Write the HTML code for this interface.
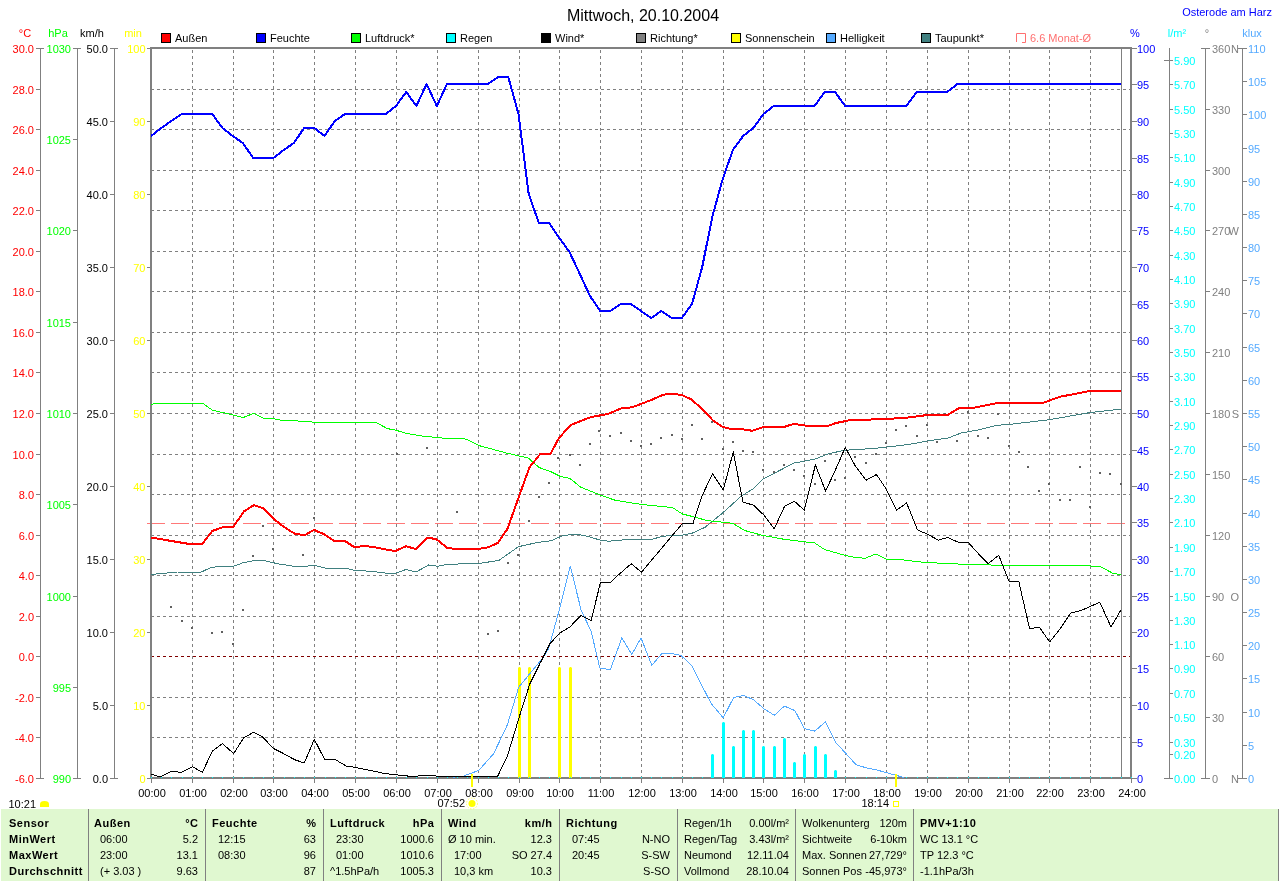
<!DOCTYPE html>
<html><head><meta charset="utf-8"><style>
html,body{margin:0;padding:0;background:#fff;width:1280px;height:881px;overflow:hidden}
svg{display:block;will-change:transform}
text{font-family:"Liberation Sans", sans-serif} text[font-weight=bold]{letter-spacing:0.5px}
</style></head><body>
<svg width="1280" height="881" viewBox="0 0 1280 881">
<text x="643" y="21" fill="#000" font-size="16" text-anchor="middle" font-weight="normal" >Mittwoch, 20.10.2004</text>
<text x="1272" y="16" fill="#0000FF" font-size="11" text-anchor="end" font-weight="normal" >Osterode am Harz</text>
<rect x="161.5" y="33.5" width="9" height="9" fill="#FF0000" stroke="#000" stroke-width="1"/>
<text x="175" y="42" fill="#000" font-size="11" text-anchor="start" font-weight="normal" >Außen</text>
<rect x="256.5" y="33.5" width="9" height="9" fill="#0000FF" stroke="#000" stroke-width="1"/>
<text x="270" y="42" fill="#000" font-size="11" text-anchor="start" font-weight="normal" >Feuchte</text>
<rect x="351.5" y="33.5" width="9" height="9" fill="#00FF00" stroke="#000" stroke-width="1"/>
<text x="365" y="42" fill="#000" font-size="11" text-anchor="start" font-weight="normal" >Luftdruck*</text>
<rect x="446.5" y="33.5" width="9" height="9" fill="#00FFFF" stroke="#000" stroke-width="1"/>
<text x="460" y="42" fill="#000" font-size="11" text-anchor="start" font-weight="normal" >Regen</text>
<rect x="541.5" y="33.5" width="9" height="9" fill="#000000" stroke="#000" stroke-width="1"/>
<text x="555" y="42" fill="#000" font-size="11" text-anchor="start" font-weight="normal" >Wind*</text>
<rect x="636.5" y="33.5" width="9" height="9" fill="#808080" stroke="#000" stroke-width="1"/>
<text x="650" y="42" fill="#000" font-size="11" text-anchor="start" font-weight="normal" >Richtung*</text>
<rect x="731.5" y="33.5" width="9" height="9" fill="#FFFF00" stroke="#000" stroke-width="1"/>
<text x="745" y="42" fill="#000" font-size="11" text-anchor="start" font-weight="normal" >Sonnenschein</text>
<rect x="826.5" y="33.5" width="9" height="9" fill="#55AAFF" stroke="#000" stroke-width="1"/>
<text x="840" y="42" fill="#000" font-size="11" text-anchor="start" font-weight="normal" >Helligkeit</text>
<rect x="921.5" y="33.5" width="9" height="9" fill="#408080" stroke="#000" stroke-width="1"/>
<text x="935" y="42" fill="#000" font-size="11" text-anchor="start" font-weight="normal" >Taupunkt*</text>
<path d="M1016.5,42 V33.5 H1025.5 V42.5 H1022" fill="none" stroke="#FF7070" stroke-width="1"/>
<text x="1030" y="42" fill="#FF7070" font-size="11" text-anchor="start" font-weight="normal" >6.6 Monat-Ø</text>
<text x="25" y="37" fill="#FF0000" font-size="11" text-anchor="middle" font-weight="normal" >°C</text>
<text x="58" y="37" fill="#00FF00" font-size="11" text-anchor="middle" font-weight="normal" >hPa</text>
<text x="92" y="37" fill="#000" font-size="11" text-anchor="middle" font-weight="normal" >km/h</text>
<text x="133" y="37" fill="#FFFF00" font-size="11" text-anchor="middle" font-weight="normal" >min</text>
<text x="1135" y="37" fill="#0000FF" font-size="11" text-anchor="middle" font-weight="normal" >%</text>
<text x="1177" y="37" fill="#00FFFF" font-size="11" text-anchor="middle" font-weight="normal" >l/m²</text>
<text x="1207" y="37" fill="#808080" font-size="11" text-anchor="middle" font-weight="normal" >°</text>
<text x="1252" y="37" fill="#55AAFF" font-size="11" text-anchor="middle" font-weight="normal" >klux</text>
<line x1="40.5" y1="48" x2="40.5" y2="779" stroke="#808080" stroke-width="1"/>
<line x1="36" y1="48.5" x2="44" y2="48.5" stroke="#808080" stroke-width="1"/>
<text x="34" y="53" fill="#FF0000" font-size="11" text-anchor="end" font-weight="normal" >30.0</text>
<line x1="36" y1="89.5" x2="40" y2="89.5" stroke="#808080" stroke-width="1"/>
<text x="34" y="94" fill="#FF0000" font-size="11" text-anchor="end" font-weight="normal" >28.0</text>
<line x1="36" y1="129.5" x2="40" y2="129.5" stroke="#808080" stroke-width="1"/>
<text x="34" y="134" fill="#FF0000" font-size="11" text-anchor="end" font-weight="normal" >26.0</text>
<line x1="36" y1="170.5" x2="40" y2="170.5" stroke="#808080" stroke-width="1"/>
<text x="34" y="175" fill="#FF0000" font-size="11" text-anchor="end" font-weight="normal" >24.0</text>
<line x1="36" y1="210.5" x2="40" y2="210.5" stroke="#808080" stroke-width="1"/>
<text x="34" y="215" fill="#FF0000" font-size="11" text-anchor="end" font-weight="normal" >22.0</text>
<line x1="36" y1="251.5" x2="40" y2="251.5" stroke="#808080" stroke-width="1"/>
<text x="34" y="256" fill="#FF0000" font-size="11" text-anchor="end" font-weight="normal" >20.0</text>
<line x1="36" y1="291.5" x2="40" y2="291.5" stroke="#808080" stroke-width="1"/>
<text x="34" y="296" fill="#FF0000" font-size="11" text-anchor="end" font-weight="normal" >18.0</text>
<line x1="36" y1="332.5" x2="40" y2="332.5" stroke="#808080" stroke-width="1"/>
<text x="34" y="337" fill="#FF0000" font-size="11" text-anchor="end" font-weight="normal" >16.0</text>
<line x1="36" y1="372.5" x2="40" y2="372.5" stroke="#808080" stroke-width="1"/>
<text x="34" y="377" fill="#FF0000" font-size="11" text-anchor="end" font-weight="normal" >14.0</text>
<line x1="36" y1="413.5" x2="40" y2="413.5" stroke="#808080" stroke-width="1"/>
<text x="34" y="418" fill="#FF0000" font-size="11" text-anchor="end" font-weight="normal" >12.0</text>
<line x1="36" y1="454.5" x2="40" y2="454.5" stroke="#808080" stroke-width="1"/>
<text x="34" y="459" fill="#FF0000" font-size="11" text-anchor="end" font-weight="normal" >10.0</text>
<line x1="36" y1="494.5" x2="40" y2="494.5" stroke="#808080" stroke-width="1"/>
<text x="34" y="499" fill="#FF0000" font-size="11" text-anchor="end" font-weight="normal" >8.0</text>
<line x1="36" y1="535.5" x2="40" y2="535.5" stroke="#808080" stroke-width="1"/>
<text x="34" y="540" fill="#FF0000" font-size="11" text-anchor="end" font-weight="normal" >6.0</text>
<line x1="36" y1="575.5" x2="40" y2="575.5" stroke="#808080" stroke-width="1"/>
<text x="34" y="580" fill="#FF0000" font-size="11" text-anchor="end" font-weight="normal" >4.0</text>
<line x1="36" y1="616.5" x2="40" y2="616.5" stroke="#808080" stroke-width="1"/>
<text x="34" y="621" fill="#FF0000" font-size="11" text-anchor="end" font-weight="normal" >2.0</text>
<line x1="36" y1="656.5" x2="40" y2="656.5" stroke="#808080" stroke-width="1"/>
<text x="34" y="661" fill="#FF0000" font-size="11" text-anchor="end" font-weight="normal" >0.0</text>
<line x1="36" y1="697.5" x2="40" y2="697.5" stroke="#808080" stroke-width="1"/>
<text x="34" y="702" fill="#FF0000" font-size="11" text-anchor="end" font-weight="normal" >-2.0</text>
<line x1="36" y1="737.5" x2="40" y2="737.5" stroke="#808080" stroke-width="1"/>
<text x="34" y="742" fill="#FF0000" font-size="11" text-anchor="end" font-weight="normal" >-4.0</text>
<line x1="36" y1="778.5" x2="44" y2="778.5" stroke="#808080" stroke-width="1"/>
<text x="34" y="783" fill="#FF0000" font-size="11" text-anchor="end" font-weight="normal" >-6.0</text>
<line x1="77.5" y1="48" x2="77.5" y2="779" stroke="#808080" stroke-width="1"/>
<line x1="73" y1="48.5" x2="81" y2="48.5" stroke="#808080" stroke-width="1"/>
<text x="71" y="53" fill="#00FF00" font-size="11" text-anchor="end" font-weight="normal" >1030</text>
<line x1="73" y1="139.5" x2="77" y2="139.5" stroke="#808080" stroke-width="1"/>
<text x="71" y="144" fill="#00FF00" font-size="11" text-anchor="end" font-weight="normal" >1025</text>
<line x1="73" y1="230.5" x2="77" y2="230.5" stroke="#808080" stroke-width="1"/>
<text x="71" y="235" fill="#00FF00" font-size="11" text-anchor="end" font-weight="normal" >1020</text>
<line x1="73" y1="322.5" x2="77" y2="322.5" stroke="#808080" stroke-width="1"/>
<text x="71" y="327" fill="#00FF00" font-size="11" text-anchor="end" font-weight="normal" >1015</text>
<line x1="73" y1="413.5" x2="77" y2="413.5" stroke="#808080" stroke-width="1"/>
<text x="71" y="418" fill="#00FF00" font-size="11" text-anchor="end" font-weight="normal" >1010</text>
<line x1="73" y1="504.5" x2="77" y2="504.5" stroke="#808080" stroke-width="1"/>
<text x="71" y="509" fill="#00FF00" font-size="11" text-anchor="end" font-weight="normal" >1005</text>
<line x1="73" y1="596.5" x2="77" y2="596.5" stroke="#808080" stroke-width="1"/>
<text x="71" y="601" fill="#00FF00" font-size="11" text-anchor="end" font-weight="normal" >1000</text>
<line x1="73" y1="687.5" x2="77" y2="687.5" stroke="#808080" stroke-width="1"/>
<text x="71" y="692" fill="#00FF00" font-size="11" text-anchor="end" font-weight="normal" >995</text>
<line x1="73" y1="778.5" x2="81" y2="778.5" stroke="#808080" stroke-width="1"/>
<text x="71" y="783" fill="#00FF00" font-size="11" text-anchor="end" font-weight="normal" >990</text>
<line x1="114.5" y1="48" x2="114.5" y2="779" stroke="#808080" stroke-width="1"/>
<line x1="110" y1="48.5" x2="118" y2="48.5" stroke="#808080" stroke-width="1"/>
<text x="108" y="53" fill="#000" font-size="11" text-anchor="end" font-weight="normal" >50.0</text>
<line x1="110" y1="121.5" x2="114" y2="121.5" stroke="#808080" stroke-width="1"/>
<text x="108" y="126" fill="#000" font-size="11" text-anchor="end" font-weight="normal" >45.0</text>
<line x1="110" y1="194.5" x2="114" y2="194.5" stroke="#808080" stroke-width="1"/>
<text x="108" y="199" fill="#000" font-size="11" text-anchor="end" font-weight="normal" >40.0</text>
<line x1="110" y1="267.5" x2="114" y2="267.5" stroke="#808080" stroke-width="1"/>
<text x="108" y="272" fill="#000" font-size="11" text-anchor="end" font-weight="normal" >35.0</text>
<line x1="110" y1="340.5" x2="114" y2="340.5" stroke="#808080" stroke-width="1"/>
<text x="108" y="345" fill="#000" font-size="11" text-anchor="end" font-weight="normal" >30.0</text>
<line x1="110" y1="413.5" x2="114" y2="413.5" stroke="#808080" stroke-width="1"/>
<text x="108" y="418" fill="#000" font-size="11" text-anchor="end" font-weight="normal" >25.0</text>
<line x1="110" y1="486.5" x2="114" y2="486.5" stroke="#808080" stroke-width="1"/>
<text x="108" y="491" fill="#000" font-size="11" text-anchor="end" font-weight="normal" >20.0</text>
<line x1="110" y1="559.5" x2="114" y2="559.5" stroke="#808080" stroke-width="1"/>
<text x="108" y="564" fill="#000" font-size="11" text-anchor="end" font-weight="normal" >15.0</text>
<line x1="110" y1="632.5" x2="114" y2="632.5" stroke="#808080" stroke-width="1"/>
<text x="108" y="637" fill="#000" font-size="11" text-anchor="end" font-weight="normal" >10.0</text>
<line x1="110" y1="705.5" x2="114" y2="705.5" stroke="#808080" stroke-width="1"/>
<text x="108" y="710" fill="#000" font-size="11" text-anchor="end" font-weight="normal" >5.0</text>
<line x1="110" y1="778.5" x2="118" y2="778.5" stroke="#808080" stroke-width="1"/>
<text x="108" y="783" fill="#000" font-size="11" text-anchor="end" font-weight="normal" >0.0</text>
<line x1="147" y1="48.5" x2="151" y2="48.5" stroke="#808080" stroke-width="1"/>
<text x="145.5" y="53" fill="#FFFF00" font-size="11" text-anchor="end" font-weight="normal" >100</text>
<line x1="147" y1="121.5" x2="151" y2="121.5" stroke="#808080" stroke-width="1"/>
<text x="145.5" y="126" fill="#FFFF00" font-size="11" text-anchor="end" font-weight="normal" >90</text>
<line x1="147" y1="194.5" x2="151" y2="194.5" stroke="#808080" stroke-width="1"/>
<text x="145.5" y="199" fill="#FFFF00" font-size="11" text-anchor="end" font-weight="normal" >80</text>
<line x1="147" y1="267.5" x2="151" y2="267.5" stroke="#808080" stroke-width="1"/>
<text x="145.5" y="272" fill="#FFFF00" font-size="11" text-anchor="end" font-weight="normal" >70</text>
<line x1="147" y1="340.5" x2="151" y2="340.5" stroke="#808080" stroke-width="1"/>
<text x="145.5" y="345" fill="#FFFF00" font-size="11" text-anchor="end" font-weight="normal" >60</text>
<line x1="147" y1="413.5" x2="151" y2="413.5" stroke="#808080" stroke-width="1"/>
<text x="145.5" y="418" fill="#FFFF00" font-size="11" text-anchor="end" font-weight="normal" >50</text>
<line x1="147" y1="486.5" x2="151" y2="486.5" stroke="#808080" stroke-width="1"/>
<text x="145.5" y="491" fill="#FFFF00" font-size="11" text-anchor="end" font-weight="normal" >40</text>
<line x1="147" y1="559.5" x2="151" y2="559.5" stroke="#808080" stroke-width="1"/>
<text x="145.5" y="564" fill="#FFFF00" font-size="11" text-anchor="end" font-weight="normal" >30</text>
<line x1="147" y1="632.5" x2="151" y2="632.5" stroke="#808080" stroke-width="1"/>
<text x="145.5" y="637" fill="#FFFF00" font-size="11" text-anchor="end" font-weight="normal" >20</text>
<line x1="147" y1="705.5" x2="151" y2="705.5" stroke="#808080" stroke-width="1"/>
<text x="145.5" y="710" fill="#FFFF00" font-size="11" text-anchor="end" font-weight="normal" >10</text>
<line x1="147" y1="778.5" x2="151" y2="778.5" stroke="#808080" stroke-width="1"/>
<text x="145.5" y="783" fill="#FFFF00" font-size="11" text-anchor="end" font-weight="normal" >0</text>
<line x1="151" y1="89.5" x2="1130" y2="89.5" stroke="#808080" stroke-width="1" stroke-dasharray="3 3"/>
<line x1="151" y1="129.5" x2="1130" y2="129.5" stroke="#808080" stroke-width="1" stroke-dasharray="3 3"/>
<line x1="151" y1="170.5" x2="1130" y2="170.5" stroke="#808080" stroke-width="1" stroke-dasharray="3 3"/>
<line x1="151" y1="210.5" x2="1130" y2="210.5" stroke="#808080" stroke-width="1" stroke-dasharray="3 3"/>
<line x1="151" y1="251.5" x2="1130" y2="251.5" stroke="#808080" stroke-width="1" stroke-dasharray="3 3"/>
<line x1="151" y1="291.5" x2="1130" y2="291.5" stroke="#808080" stroke-width="1" stroke-dasharray="3 3"/>
<line x1="151" y1="332.5" x2="1130" y2="332.5" stroke="#808080" stroke-width="1" stroke-dasharray="3 3"/>
<line x1="151" y1="372.5" x2="1130" y2="372.5" stroke="#808080" stroke-width="1" stroke-dasharray="3 3"/>
<line x1="151" y1="413.5" x2="1130" y2="413.5" stroke="#808080" stroke-width="1" stroke-dasharray="3 3"/>
<line x1="151" y1="454.5" x2="1130" y2="454.5" stroke="#808080" stroke-width="1" stroke-dasharray="3 3"/>
<line x1="151" y1="494.5" x2="1130" y2="494.5" stroke="#808080" stroke-width="1" stroke-dasharray="3 3"/>
<line x1="151" y1="535.5" x2="1130" y2="535.5" stroke="#808080" stroke-width="1" stroke-dasharray="3 3"/>
<line x1="151" y1="575.5" x2="1130" y2="575.5" stroke="#808080" stroke-width="1" stroke-dasharray="3 3"/>
<line x1="151" y1="616.5" x2="1130" y2="616.5" stroke="#808080" stroke-width="1" stroke-dasharray="3 3"/>
<line x1="151" y1="656.5" x2="1130" y2="656.5" stroke="#808080" stroke-width="1" stroke-dasharray="3 3"/>
<line x1="151" y1="697.5" x2="1130" y2="697.5" stroke="#808080" stroke-width="1" stroke-dasharray="3 3"/>
<line x1="151" y1="737.5" x2="1130" y2="737.5" stroke="#808080" stroke-width="1" stroke-dasharray="3 3"/>
<line x1="192.5" y1="50" x2="192.5" y2="777" stroke="#808080" stroke-width="1" stroke-dasharray="3 3"/>
<line x1="233.5" y1="50" x2="233.5" y2="777" stroke="#808080" stroke-width="1" stroke-dasharray="3 3"/>
<line x1="273.5" y1="50" x2="273.5" y2="777" stroke="#808080" stroke-width="1" stroke-dasharray="3 3"/>
<line x1="314.5" y1="50" x2="314.5" y2="777" stroke="#808080" stroke-width="1" stroke-dasharray="3 3"/>
<line x1="355.5" y1="50" x2="355.5" y2="777" stroke="#808080" stroke-width="1" stroke-dasharray="3 3"/>
<line x1="396.5" y1="50" x2="396.5" y2="777" stroke="#808080" stroke-width="1" stroke-dasharray="3 3"/>
<line x1="437.5" y1="50" x2="437.5" y2="777" stroke="#808080" stroke-width="1" stroke-dasharray="3 3"/>
<line x1="478.5" y1="50" x2="478.5" y2="777" stroke="#808080" stroke-width="1" stroke-dasharray="3 3"/>
<line x1="519.5" y1="50" x2="519.5" y2="777" stroke="#808080" stroke-width="1" stroke-dasharray="3 3"/>
<line x1="559.5" y1="50" x2="559.5" y2="777" stroke="#808080" stroke-width="1" stroke-dasharray="3 3"/>
<line x1="600.5" y1="50" x2="600.5" y2="777" stroke="#808080" stroke-width="1" stroke-dasharray="3 3"/>
<line x1="641.5" y1="50" x2="641.5" y2="777" stroke="#808080" stroke-width="1" stroke-dasharray="3 3"/>
<line x1="682.5" y1="50" x2="682.5" y2="777" stroke="#808080" stroke-width="1" stroke-dasharray="3 3"/>
<line x1="723.5" y1="50" x2="723.5" y2="777" stroke="#808080" stroke-width="1" stroke-dasharray="3 3"/>
<line x1="763.5" y1="50" x2="763.5" y2="777" stroke="#808080" stroke-width="1" stroke-dasharray="3 3"/>
<line x1="804.5" y1="50" x2="804.5" y2="777" stroke="#808080" stroke-width="1" stroke-dasharray="3 3"/>
<line x1="845.5" y1="50" x2="845.5" y2="777" stroke="#808080" stroke-width="1" stroke-dasharray="3 3"/>
<line x1="886.5" y1="50" x2="886.5" y2="777" stroke="#808080" stroke-width="1" stroke-dasharray="3 3"/>
<line x1="927.5" y1="50" x2="927.5" y2="777" stroke="#808080" stroke-width="1" stroke-dasharray="3 3"/>
<line x1="968.5" y1="50" x2="968.5" y2="777" stroke="#808080" stroke-width="1" stroke-dasharray="3 3"/>
<line x1="1009.5" y1="50" x2="1009.5" y2="777" stroke="#808080" stroke-width="1" stroke-dasharray="3 3"/>
<line x1="1049.5" y1="50" x2="1049.5" y2="777" stroke="#808080" stroke-width="1" stroke-dasharray="3 3"/>
<line x1="1090.5" y1="50" x2="1090.5" y2="777" stroke="#808080" stroke-width="1" stroke-dasharray="3 3"/>
<line x1="1132" y1="48.5" x2="1137" y2="48.5" stroke="#808080" stroke-width="1"/>
<text x="1137" y="53" fill="#0000FF" font-size="11" text-anchor="start" font-weight="normal" >100</text>
<line x1="1132" y1="84.5" x2="1137" y2="84.5" stroke="#808080" stroke-width="1"/>
<text x="1137" y="89" fill="#0000FF" font-size="11" text-anchor="start" font-weight="normal" >95</text>
<line x1="1132" y1="121.5" x2="1137" y2="121.5" stroke="#808080" stroke-width="1"/>
<text x="1137" y="126" fill="#0000FF" font-size="11" text-anchor="start" font-weight="normal" >90</text>
<line x1="1132" y1="158.5" x2="1137" y2="158.5" stroke="#808080" stroke-width="1"/>
<text x="1137" y="163" fill="#0000FF" font-size="11" text-anchor="start" font-weight="normal" >85</text>
<line x1="1132" y1="194.5" x2="1137" y2="194.5" stroke="#808080" stroke-width="1"/>
<text x="1137" y="199" fill="#0000FF" font-size="11" text-anchor="start" font-weight="normal" >80</text>
<line x1="1132" y1="230.5" x2="1137" y2="230.5" stroke="#808080" stroke-width="1"/>
<text x="1137" y="235" fill="#0000FF" font-size="11" text-anchor="start" font-weight="normal" >75</text>
<line x1="1132" y1="267.5" x2="1137" y2="267.5" stroke="#808080" stroke-width="1"/>
<text x="1137" y="272" fill="#0000FF" font-size="11" text-anchor="start" font-weight="normal" >70</text>
<line x1="1132" y1="304.5" x2="1137" y2="304.5" stroke="#808080" stroke-width="1"/>
<text x="1137" y="309" fill="#0000FF" font-size="11" text-anchor="start" font-weight="normal" >65</text>
<line x1="1132" y1="340.5" x2="1137" y2="340.5" stroke="#808080" stroke-width="1"/>
<text x="1137" y="345" fill="#0000FF" font-size="11" text-anchor="start" font-weight="normal" >60</text>
<line x1="1132" y1="376.5" x2="1137" y2="376.5" stroke="#808080" stroke-width="1"/>
<text x="1137" y="381" fill="#0000FF" font-size="11" text-anchor="start" font-weight="normal" >55</text>
<line x1="1132" y1="413.5" x2="1137" y2="413.5" stroke="#808080" stroke-width="1"/>
<text x="1137" y="418" fill="#0000FF" font-size="11" text-anchor="start" font-weight="normal" >50</text>
<line x1="1132" y1="450.5" x2="1137" y2="450.5" stroke="#808080" stroke-width="1"/>
<text x="1137" y="455" fill="#0000FF" font-size="11" text-anchor="start" font-weight="normal" >45</text>
<line x1="1132" y1="486.5" x2="1137" y2="486.5" stroke="#808080" stroke-width="1"/>
<text x="1137" y="491" fill="#0000FF" font-size="11" text-anchor="start" font-weight="normal" >40</text>
<line x1="1132" y1="522.5" x2="1137" y2="522.5" stroke="#808080" stroke-width="1"/>
<text x="1137" y="527" fill="#0000FF" font-size="11" text-anchor="start" font-weight="normal" >35</text>
<line x1="1132" y1="559.5" x2="1137" y2="559.5" stroke="#808080" stroke-width="1"/>
<text x="1137" y="564" fill="#0000FF" font-size="11" text-anchor="start" font-weight="normal" >30</text>
<line x1="1132" y1="596.5" x2="1137" y2="596.5" stroke="#808080" stroke-width="1"/>
<text x="1137" y="601" fill="#0000FF" font-size="11" text-anchor="start" font-weight="normal" >25</text>
<line x1="1132" y1="632.5" x2="1137" y2="632.5" stroke="#808080" stroke-width="1"/>
<text x="1137" y="637" fill="#0000FF" font-size="11" text-anchor="start" font-weight="normal" >20</text>
<line x1="1132" y1="668.5" x2="1137" y2="668.5" stroke="#808080" stroke-width="1"/>
<text x="1137" y="673" fill="#0000FF" font-size="11" text-anchor="start" font-weight="normal" >15</text>
<line x1="1132" y1="705.5" x2="1137" y2="705.5" stroke="#808080" stroke-width="1"/>
<text x="1137" y="710" fill="#0000FF" font-size="11" text-anchor="start" font-weight="normal" >10</text>
<line x1="1132" y1="742.5" x2="1137" y2="742.5" stroke="#808080" stroke-width="1"/>
<text x="1137" y="747" fill="#0000FF" font-size="11" text-anchor="start" font-weight="normal" >5</text>
<line x1="1132" y1="778.5" x2="1137" y2="778.5" stroke="#808080" stroke-width="1"/>
<text x="1137" y="783" fill="#0000FF" font-size="11" text-anchor="start" font-weight="normal" >0</text>
<line x1="1169.5" y1="48" x2="1169.5" y2="779" stroke="#808080" stroke-width="1"/>
<line x1="1164" y1="60.5" x2="1173" y2="60.5" stroke="#808080" stroke-width="1"/>
<text x="1174" y="65" fill="#00FFFF" font-size="11" text-anchor="start" font-weight="normal" >5.90</text>
<line x1="1169" y1="84.5" x2="1173" y2="84.5" stroke="#808080" stroke-width="1"/>
<text x="1174" y="89" fill="#00FFFF" font-size="11" text-anchor="start" font-weight="normal" >5.70</text>
<line x1="1169" y1="109.5" x2="1173" y2="109.5" stroke="#808080" stroke-width="1"/>
<text x="1174" y="114" fill="#00FFFF" font-size="11" text-anchor="start" font-weight="normal" >5.50</text>
<line x1="1169" y1="133.5" x2="1173" y2="133.5" stroke="#808080" stroke-width="1"/>
<text x="1174" y="138" fill="#00FFFF" font-size="11" text-anchor="start" font-weight="normal" >5.30</text>
<line x1="1169" y1="157.5" x2="1173" y2="157.5" stroke="#808080" stroke-width="1"/>
<text x="1174" y="162" fill="#00FFFF" font-size="11" text-anchor="start" font-weight="normal" >5.10</text>
<line x1="1169" y1="182.5" x2="1173" y2="182.5" stroke="#808080" stroke-width="1"/>
<text x="1174" y="187" fill="#00FFFF" font-size="11" text-anchor="start" font-weight="normal" >4.90</text>
<line x1="1169" y1="206.5" x2="1173" y2="206.5" stroke="#808080" stroke-width="1"/>
<text x="1174" y="211" fill="#00FFFF" font-size="11" text-anchor="start" font-weight="normal" >4.70</text>
<line x1="1169" y1="230.5" x2="1173" y2="230.5" stroke="#808080" stroke-width="1"/>
<text x="1174" y="235" fill="#00FFFF" font-size="11" text-anchor="start" font-weight="normal" >4.50</text>
<line x1="1169" y1="255.5" x2="1173" y2="255.5" stroke="#808080" stroke-width="1"/>
<text x="1174" y="260" fill="#00FFFF" font-size="11" text-anchor="start" font-weight="normal" >4.30</text>
<line x1="1169" y1="279.5" x2="1173" y2="279.5" stroke="#808080" stroke-width="1"/>
<text x="1174" y="284" fill="#00FFFF" font-size="11" text-anchor="start" font-weight="normal" >4.10</text>
<line x1="1169" y1="303.5" x2="1173" y2="303.5" stroke="#808080" stroke-width="1"/>
<text x="1174" y="308" fill="#00FFFF" font-size="11" text-anchor="start" font-weight="normal" >3.90</text>
<line x1="1169" y1="328.5" x2="1173" y2="328.5" stroke="#808080" stroke-width="1"/>
<text x="1174" y="333" fill="#00FFFF" font-size="11" text-anchor="start" font-weight="normal" >3.70</text>
<line x1="1169" y1="352.5" x2="1173" y2="352.5" stroke="#808080" stroke-width="1"/>
<text x="1174" y="357" fill="#00FFFF" font-size="11" text-anchor="start" font-weight="normal" >3.50</text>
<line x1="1169" y1="376.5" x2="1173" y2="376.5" stroke="#808080" stroke-width="1"/>
<text x="1174" y="381" fill="#00FFFF" font-size="11" text-anchor="start" font-weight="normal" >3.30</text>
<line x1="1169" y1="401.5" x2="1173" y2="401.5" stroke="#808080" stroke-width="1"/>
<text x="1174" y="406" fill="#00FFFF" font-size="11" text-anchor="start" font-weight="normal" >3.10</text>
<line x1="1169" y1="425.5" x2="1173" y2="425.5" stroke="#808080" stroke-width="1"/>
<text x="1174" y="430" fill="#00FFFF" font-size="11" text-anchor="start" font-weight="normal" >2.90</text>
<line x1="1169" y1="449.5" x2="1173" y2="449.5" stroke="#808080" stroke-width="1"/>
<text x="1174" y="454" fill="#00FFFF" font-size="11" text-anchor="start" font-weight="normal" >2.70</text>
<line x1="1169" y1="474.5" x2="1173" y2="474.5" stroke="#808080" stroke-width="1"/>
<text x="1174" y="479" fill="#00FFFF" font-size="11" text-anchor="start" font-weight="normal" >2.50</text>
<line x1="1169" y1="498.5" x2="1173" y2="498.5" stroke="#808080" stroke-width="1"/>
<text x="1174" y="503" fill="#00FFFF" font-size="11" text-anchor="start" font-weight="normal" >2.30</text>
<line x1="1169" y1="522.5" x2="1173" y2="522.5" stroke="#808080" stroke-width="1"/>
<text x="1174" y="527" fill="#00FFFF" font-size="11" text-anchor="start" font-weight="normal" >2.10</text>
<line x1="1169" y1="547.5" x2="1173" y2="547.5" stroke="#808080" stroke-width="1"/>
<text x="1174" y="552" fill="#00FFFF" font-size="11" text-anchor="start" font-weight="normal" >1.90</text>
<line x1="1169" y1="571.5" x2="1173" y2="571.5" stroke="#808080" stroke-width="1"/>
<text x="1174" y="576" fill="#00FFFF" font-size="11" text-anchor="start" font-weight="normal" >1.70</text>
<line x1="1169" y1="596.5" x2="1173" y2="596.5" stroke="#808080" stroke-width="1"/>
<text x="1174" y="601" fill="#00FFFF" font-size="11" text-anchor="start" font-weight="normal" >1.50</text>
<line x1="1169" y1="620.5" x2="1173" y2="620.5" stroke="#808080" stroke-width="1"/>
<text x="1174" y="625" fill="#00FFFF" font-size="11" text-anchor="start" font-weight="normal" >1.30</text>
<line x1="1169" y1="644.5" x2="1173" y2="644.5" stroke="#808080" stroke-width="1"/>
<text x="1174" y="649" fill="#00FFFF" font-size="11" text-anchor="start" font-weight="normal" >1.10</text>
<line x1="1169" y1="668.5" x2="1173" y2="668.5" stroke="#808080" stroke-width="1"/>
<text x="1174" y="673" fill="#00FFFF" font-size="11" text-anchor="start" font-weight="normal" >0.90</text>
<line x1="1169" y1="693.5" x2="1173" y2="693.5" stroke="#808080" stroke-width="1"/>
<text x="1174" y="698" fill="#00FFFF" font-size="11" text-anchor="start" font-weight="normal" >0.70</text>
<line x1="1169" y1="717.5" x2="1173" y2="717.5" stroke="#808080" stroke-width="1"/>
<text x="1174" y="722" fill="#00FFFF" font-size="11" text-anchor="start" font-weight="normal" >0.50</text>
<line x1="1169" y1="742.5" x2="1173" y2="742.5" stroke="#808080" stroke-width="1"/>
<text x="1174" y="747" fill="#00FFFF" font-size="11" text-anchor="start" font-weight="normal" >0.30</text>
<line x1="1169" y1="754.5" x2="1173" y2="754.5" stroke="#808080" stroke-width="1"/>
<text x="1174" y="759" fill="#00FFFF" font-size="11" text-anchor="start" font-weight="normal" >0.20</text>
<line x1="1164" y1="778.5" x2="1173" y2="778.5" stroke="#808080" stroke-width="1"/>
<text x="1174" y="783" fill="#00FFFF" font-size="11" text-anchor="start" font-weight="normal" >0.00</text>
<line x1="1205.5" y1="48" x2="1205.5" y2="779" stroke="#808080" stroke-width="1"/>
<line x1="1201" y1="48.5" x2="1210" y2="48.5" stroke="#808080" stroke-width="1"/>
<text x="1212" y="53" fill="#808080" font-size="11" text-anchor="start" font-weight="normal" >360</text>
<text x="1239" y="53" fill="#808080" font-size="11" text-anchor="end" font-weight="normal" >N</text>
<line x1="1205" y1="109.5" x2="1210" y2="109.5" stroke="#808080" stroke-width="1"/>
<text x="1212" y="114" fill="#808080" font-size="11" text-anchor="start" font-weight="normal" >330</text>
<line x1="1205" y1="170.5" x2="1210" y2="170.5" stroke="#808080" stroke-width="1"/>
<text x="1212" y="175" fill="#808080" font-size="11" text-anchor="start" font-weight="normal" >300</text>
<line x1="1205" y1="230.5" x2="1210" y2="230.5" stroke="#808080" stroke-width="1"/>
<text x="1212" y="235" fill="#808080" font-size="11" text-anchor="start" font-weight="normal" >270</text>
<text x="1239" y="235" fill="#808080" font-size="11" text-anchor="end" font-weight="normal" >W</text>
<line x1="1205" y1="291.5" x2="1210" y2="291.5" stroke="#808080" stroke-width="1"/>
<text x="1212" y="296" fill="#808080" font-size="11" text-anchor="start" font-weight="normal" >240</text>
<line x1="1205" y1="352.5" x2="1210" y2="352.5" stroke="#808080" stroke-width="1"/>
<text x="1212" y="357" fill="#808080" font-size="11" text-anchor="start" font-weight="normal" >210</text>
<line x1="1205" y1="413.5" x2="1210" y2="413.5" stroke="#808080" stroke-width="1"/>
<text x="1212" y="418" fill="#808080" font-size="11" text-anchor="start" font-weight="normal" >180</text>
<text x="1239" y="418" fill="#808080" font-size="11" text-anchor="end" font-weight="normal" >S</text>
<line x1="1205" y1="474.5" x2="1210" y2="474.5" stroke="#808080" stroke-width="1"/>
<text x="1212" y="479" fill="#808080" font-size="11" text-anchor="start" font-weight="normal" >150</text>
<line x1="1205" y1="535.5" x2="1210" y2="535.5" stroke="#808080" stroke-width="1"/>
<text x="1212" y="540" fill="#808080" font-size="11" text-anchor="start" font-weight="normal" >120</text>
<line x1="1205" y1="596.5" x2="1210" y2="596.5" stroke="#808080" stroke-width="1"/>
<text x="1212" y="601" fill="#808080" font-size="11" text-anchor="start" font-weight="normal" >90</text>
<text x="1239" y="601" fill="#808080" font-size="11" text-anchor="end" font-weight="normal" >O</text>
<line x1="1205" y1="656.5" x2="1210" y2="656.5" stroke="#808080" stroke-width="1"/>
<text x="1212" y="661" fill="#808080" font-size="11" text-anchor="start" font-weight="normal" >60</text>
<line x1="1205" y1="717.5" x2="1210" y2="717.5" stroke="#808080" stroke-width="1"/>
<text x="1212" y="722" fill="#808080" font-size="11" text-anchor="start" font-weight="normal" >30</text>
<line x1="1201" y1="778.5" x2="1210" y2="778.5" stroke="#808080" stroke-width="1"/>
<text x="1212" y="783" fill="#808080" font-size="11" text-anchor="start" font-weight="normal" >0</text>
<text x="1239" y="783" fill="#808080" font-size="11" text-anchor="end" font-weight="normal" >N</text>
<line x1="1242.5" y1="48" x2="1242.5" y2="779" stroke="#808080" stroke-width="1"/>
<line x1="1238" y1="48.5" x2="1247" y2="48.5" stroke="#808080" stroke-width="1"/>
<text x="1248" y="53" fill="#55AAFF" font-size="11" text-anchor="start" font-weight="normal" >110</text>
<line x1="1242" y1="81.5" x2="1247" y2="81.5" stroke="#808080" stroke-width="1"/>
<text x="1248" y="86" fill="#55AAFF" font-size="11" text-anchor="start" font-weight="normal" >105</text>
<line x1="1242" y1="114.5" x2="1247" y2="114.5" stroke="#808080" stroke-width="1"/>
<text x="1248" y="119" fill="#55AAFF" font-size="11" text-anchor="start" font-weight="normal" >100</text>
<line x1="1242" y1="148.5" x2="1247" y2="148.5" stroke="#808080" stroke-width="1"/>
<text x="1248" y="153" fill="#55AAFF" font-size="11" text-anchor="start" font-weight="normal" >95</text>
<line x1="1242" y1="181.5" x2="1247" y2="181.5" stroke="#808080" stroke-width="1"/>
<text x="1248" y="186" fill="#55AAFF" font-size="11" text-anchor="start" font-weight="normal" >90</text>
<line x1="1242" y1="214.5" x2="1247" y2="214.5" stroke="#808080" stroke-width="1"/>
<text x="1248" y="219" fill="#55AAFF" font-size="11" text-anchor="start" font-weight="normal" >85</text>
<line x1="1242" y1="247.5" x2="1247" y2="247.5" stroke="#808080" stroke-width="1"/>
<text x="1248" y="252" fill="#55AAFF" font-size="11" text-anchor="start" font-weight="normal" >80</text>
<line x1="1242" y1="280.5" x2="1247" y2="280.5" stroke="#808080" stroke-width="1"/>
<text x="1248" y="285" fill="#55AAFF" font-size="11" text-anchor="start" font-weight="normal" >75</text>
<line x1="1242" y1="313.5" x2="1247" y2="313.5" stroke="#808080" stroke-width="1"/>
<text x="1248" y="318" fill="#55AAFF" font-size="11" text-anchor="start" font-weight="normal" >70</text>
<line x1="1242" y1="347.5" x2="1247" y2="347.5" stroke="#808080" stroke-width="1"/>
<text x="1248" y="352" fill="#55AAFF" font-size="11" text-anchor="start" font-weight="normal" >65</text>
<line x1="1242" y1="380.5" x2="1247" y2="380.5" stroke="#808080" stroke-width="1"/>
<text x="1248" y="385" fill="#55AAFF" font-size="11" text-anchor="start" font-weight="normal" >60</text>
<line x1="1242" y1="413.5" x2="1247" y2="413.5" stroke="#808080" stroke-width="1"/>
<text x="1248" y="418" fill="#55AAFF" font-size="11" text-anchor="start" font-weight="normal" >55</text>
<line x1="1242" y1="446.5" x2="1247" y2="446.5" stroke="#808080" stroke-width="1"/>
<text x="1248" y="451" fill="#55AAFF" font-size="11" text-anchor="start" font-weight="normal" >50</text>
<line x1="1242" y1="479.5" x2="1247" y2="479.5" stroke="#808080" stroke-width="1"/>
<text x="1248" y="484" fill="#55AAFF" font-size="11" text-anchor="start" font-weight="normal" >45</text>
<line x1="1242" y1="513.5" x2="1247" y2="513.5" stroke="#808080" stroke-width="1"/>
<text x="1248" y="518" fill="#55AAFF" font-size="11" text-anchor="start" font-weight="normal" >40</text>
<line x1="1242" y1="546.5" x2="1247" y2="546.5" stroke="#808080" stroke-width="1"/>
<text x="1248" y="551" fill="#55AAFF" font-size="11" text-anchor="start" font-weight="normal" >35</text>
<line x1="1242" y1="579.5" x2="1247" y2="579.5" stroke="#808080" stroke-width="1"/>
<text x="1248" y="584" fill="#55AAFF" font-size="11" text-anchor="start" font-weight="normal" >30</text>
<line x1="1242" y1="612.5" x2="1247" y2="612.5" stroke="#808080" stroke-width="1"/>
<text x="1248" y="617" fill="#55AAFF" font-size="11" text-anchor="start" font-weight="normal" >25</text>
<line x1="1242" y1="645.5" x2="1247" y2="645.5" stroke="#808080" stroke-width="1"/>
<text x="1248" y="650" fill="#55AAFF" font-size="11" text-anchor="start" font-weight="normal" >20</text>
<line x1="1242" y1="678.5" x2="1247" y2="678.5" stroke="#808080" stroke-width="1"/>
<text x="1248" y="683" fill="#55AAFF" font-size="11" text-anchor="start" font-weight="normal" >15</text>
<line x1="1242" y1="712.5" x2="1247" y2="712.5" stroke="#808080" stroke-width="1"/>
<text x="1248" y="717" fill="#55AAFF" font-size="11" text-anchor="start" font-weight="normal" >10</text>
<line x1="1242" y1="745.5" x2="1247" y2="745.5" stroke="#808080" stroke-width="1"/>
<text x="1248" y="750" fill="#55AAFF" font-size="11" text-anchor="start" font-weight="normal" >5</text>
<line x1="1238" y1="778.5" x2="1247" y2="778.5" stroke="#808080" stroke-width="1"/>
<text x="1248" y="783" fill="#55AAFF" font-size="11" text-anchor="start" font-weight="normal" >0</text>
<line x1="151" y1="656.5" x2="1130" y2="656.5" stroke="#800000" stroke-width="1" stroke-dasharray="3 3"/>
<line x1="147" y1="523.5" x2="1130" y2="523.5" stroke="#FF7878" stroke-width="1" stroke-dasharray="18 6"/>
<rect x="151" y="48" width="980" height="730" fill="none" stroke="#808080" stroke-width="2"/>
<line x1="1121.5" y1="48" x2="1121.5" y2="777" stroke="#808080" stroke-width="1"/>
<path d="M711,778 L711,755 L712,754 L713,754 L714,755 L714,778 Z" fill="#00FFFF"/>
<path d="M722,778 L722,723 L723,722 L724,722 L725,723 L725,778 Z" fill="#00FFFF"/>
<path d="M732,778 L732,747 L733,746 L734,746 L735,747 L735,778 Z" fill="#00FFFF"/>
<path d="M742,778 L742,731 L743,730 L744,730 L745,731 L745,778 Z" fill="#00FFFF"/>
<path d="M752,778 L752,731 L753,730 L754,730 L755,731 L755,778 Z" fill="#00FFFF"/>
<path d="M762,778 L762,747 L763,746 L764,746 L765,747 L765,778 Z" fill="#00FFFF"/>
<path d="M773,778 L773,747 L774,746 L775,746 L776,747 L776,778 Z" fill="#00FFFF"/>
<path d="M783,778 L783,739 L784,738 L785,738 L786,739 L786,778 Z" fill="#00FFFF"/>
<path d="M793,778 L793,763 L794,762 L795,762 L796,763 L796,778 Z" fill="#00FFFF"/>
<path d="M803,778 L803,755 L804,754 L805,754 L806,755 L806,778 Z" fill="#00FFFF"/>
<path d="M814,778 L814,747 L815,746 L816,746 L817,747 L817,778 Z" fill="#00FFFF"/>
<path d="M824,778 L824,755 L825,754 L826,754 L827,755 L827,778 Z" fill="#00FFFF"/>
<path d="M834,778 L834,771 L835,770 L836,770 L837,771 L837,778 Z" fill="#00FFFF"/>
<path d="M518,778 L518,668 L519,667 L520,667 L521,668 L521,778 Z" fill="#FFFF00"/>
<path d="M528,778 L528,668 L529,667 L530,667 L531,668 L531,778 Z" fill="#FFFF00"/>
<path d="M558,778 L558,668 L559,667 L560,667 L561,668 L561,778 Z" fill="#FFFF00"/>
<path d="M569,778 L569,668 L570,667 L571,667 L572,668 L572,778 Z" fill="#FFFF00"/>
<rect x="151" y="777" width="1" height="1" fill="#00FFFF"/>
<rect x="161" y="777" width="1" height="1" fill="#00FFFF"/>
<rect x="171" y="777" width="1" height="1" fill="#00FFFF"/>
<rect x="182" y="777" width="1" height="1" fill="#00FFFF"/>
<rect x="192" y="777" width="1" height="1" fill="#00FFFF"/>
<rect x="202" y="777" width="1" height="1" fill="#00FFFF"/>
<rect x="212" y="777" width="1" height="1" fill="#00FFFF"/>
<rect x="222" y="777" width="1" height="1" fill="#00FFFF"/>
<rect x="233" y="777" width="1" height="1" fill="#00FFFF"/>
<rect x="243" y="777" width="1" height="1" fill="#00FFFF"/>
<rect x="253" y="777" width="1" height="1" fill="#00FFFF"/>
<rect x="263" y="777" width="1" height="1" fill="#00FFFF"/>
<rect x="273" y="777" width="1" height="1" fill="#00FFFF"/>
<rect x="284" y="777" width="1" height="1" fill="#00FFFF"/>
<rect x="294" y="777" width="1" height="1" fill="#00FFFF"/>
<rect x="304" y="777" width="1" height="1" fill="#00FFFF"/>
<rect x="314" y="777" width="1" height="1" fill="#00FFFF"/>
<rect x="325" y="777" width="1" height="1" fill="#00FFFF"/>
<rect x="335" y="777" width="1" height="1" fill="#00FFFF"/>
<rect x="345" y="777" width="1" height="1" fill="#00FFFF"/>
<rect x="355" y="777" width="1" height="1" fill="#00FFFF"/>
<rect x="365" y="777" width="1" height="1" fill="#00FFFF"/>
<rect x="376" y="777" width="1" height="1" fill="#00FFFF"/>
<rect x="386" y="777" width="1" height="1" fill="#00FFFF"/>
<rect x="396" y="777" width="1" height="1" fill="#00FFFF"/>
<rect x="406" y="777" width="1" height="1" fill="#00FFFF"/>
<rect x="416" y="777" width="1" height="1" fill="#00FFFF"/>
<rect x="427" y="777" width="1" height="1" fill="#00FFFF"/>
<rect x="437" y="777" width="1" height="1" fill="#00FFFF"/>
<rect x="447" y="777" width="1" height="1" fill="#00FFFF"/>
<rect x="457" y="777" width="1" height="1" fill="#00FFFF"/>
<rect x="467" y="777" width="1" height="1" fill="#00FFFF"/>
<rect x="478" y="777" width="1" height="1" fill="#00FFFF"/>
<rect x="488" y="777" width="1" height="1" fill="#00FFFF"/>
<rect x="498" y="777" width="1" height="1" fill="#00FFFF"/>
<rect x="508" y="777" width="1" height="1" fill="#00FFFF"/>
<rect x="519" y="777" width="1" height="1" fill="#00FFFF"/>
<rect x="529" y="777" width="1" height="1" fill="#00FFFF"/>
<rect x="539" y="777" width="1" height="1" fill="#00FFFF"/>
<rect x="549" y="777" width="1" height="1" fill="#00FFFF"/>
<rect x="559" y="777" width="1" height="1" fill="#00FFFF"/>
<rect x="570" y="777" width="1" height="1" fill="#00FFFF"/>
<rect x="580" y="777" width="1" height="1" fill="#00FFFF"/>
<rect x="590" y="777" width="1" height="1" fill="#00FFFF"/>
<rect x="600" y="777" width="1" height="1" fill="#00FFFF"/>
<rect x="610" y="777" width="1" height="1" fill="#00FFFF"/>
<rect x="621" y="777" width="1" height="1" fill="#00FFFF"/>
<rect x="631" y="777" width="1" height="1" fill="#00FFFF"/>
<rect x="641" y="777" width="1" height="1" fill="#00FFFF"/>
<rect x="651" y="777" width="1" height="1" fill="#00FFFF"/>
<rect x="661" y="777" width="1" height="1" fill="#00FFFF"/>
<rect x="672" y="777" width="1" height="1" fill="#00FFFF"/>
<rect x="682" y="777" width="1" height="1" fill="#00FFFF"/>
<rect x="692" y="777" width="1" height="1" fill="#00FFFF"/>
<rect x="702" y="777" width="1" height="1" fill="#00FFFF"/>
<rect x="712" y="777" width="1" height="1" fill="#00FFFF"/>
<rect x="723" y="777" width="1" height="1" fill="#00FFFF"/>
<rect x="733" y="777" width="1" height="1" fill="#00FFFF"/>
<rect x="743" y="777" width="1" height="1" fill="#00FFFF"/>
<rect x="753" y="777" width="1" height="1" fill="#00FFFF"/>
<rect x="763" y="777" width="1" height="1" fill="#00FFFF"/>
<rect x="774" y="777" width="1" height="1" fill="#00FFFF"/>
<rect x="784" y="777" width="1" height="1" fill="#00FFFF"/>
<rect x="794" y="777" width="1" height="1" fill="#00FFFF"/>
<rect x="804" y="777" width="1" height="1" fill="#00FFFF"/>
<rect x="815" y="777" width="1" height="1" fill="#00FFFF"/>
<rect x="825" y="777" width="1" height="1" fill="#00FFFF"/>
<rect x="835" y="777" width="1" height="1" fill="#00FFFF"/>
<rect x="845" y="777" width="1" height="1" fill="#00FFFF"/>
<rect x="855" y="777" width="1" height="1" fill="#00FFFF"/>
<rect x="866" y="777" width="1" height="1" fill="#00FFFF"/>
<rect x="876" y="777" width="1" height="1" fill="#00FFFF"/>
<rect x="886" y="777" width="1" height="1" fill="#00FFFF"/>
<rect x="896" y="777" width="1" height="1" fill="#00FFFF"/>
<rect x="906" y="777" width="1" height="1" fill="#00FFFF"/>
<rect x="917" y="777" width="1" height="1" fill="#00FFFF"/>
<rect x="927" y="777" width="1" height="1" fill="#00FFFF"/>
<rect x="937" y="777" width="1" height="1" fill="#00FFFF"/>
<rect x="947" y="777" width="1" height="1" fill="#00FFFF"/>
<rect x="957" y="777" width="1" height="1" fill="#00FFFF"/>
<rect x="968" y="777" width="1" height="1" fill="#00FFFF"/>
<rect x="978" y="777" width="1" height="1" fill="#00FFFF"/>
<rect x="988" y="777" width="1" height="1" fill="#00FFFF"/>
<rect x="998" y="777" width="1" height="1" fill="#00FFFF"/>
<rect x="1009" y="777" width="1" height="1" fill="#00FFFF"/>
<rect x="1019" y="777" width="1" height="1" fill="#00FFFF"/>
<rect x="1029" y="777" width="1" height="1" fill="#00FFFF"/>
<rect x="1039" y="777" width="1" height="1" fill="#00FFFF"/>
<rect x="1049" y="777" width="1" height="1" fill="#00FFFF"/>
<rect x="1060" y="777" width="1" height="1" fill="#00FFFF"/>
<rect x="1070" y="777" width="1" height="1" fill="#00FFFF"/>
<rect x="1080" y="777" width="1" height="1" fill="#00FFFF"/>
<rect x="1090" y="777" width="1" height="1" fill="#00FFFF"/>
<rect x="1100" y="777" width="1" height="1" fill="#00FFFF"/>
<rect x="1111" y="777" width="1" height="1" fill="#00FFFF"/>
<rect x="1121" y="777" width="1" height="1" fill="#00FFFF"/>
<rect x="1131" y="777" width="1" height="1" fill="#00FFFF"/>
<polyline points="452.5,777.3 463.7,776.0 478.7,770.5 493.7,753.6 507.4,724.8 518.6,687.4 529.9,673.6 542.4,658.6 548.6,648.7 558.6,612.4 570.3,566.2 581.1,610.0 591.1,631.2 599.8,667.9 610.3,669.9 621.8,637.9 631.8,654.4 641.0,637.9 651.8,665.4 661.8,653.7 672.2,653.7 681.0,655.4 692.2,666.1 700.0,681.9 711.2,703.6 723.2,717.8 733.7,697.4 743.7,695.4 753.7,699.9 763.7,708.6 774.4,715.3 784.4,706.1 794.9,710.6 804.4,728.6 814.9,731.1 825.4,721.8 836.1,742.8 844.8,752.3 856.1,764.8 866.1,767.8 876.1,769.8 896.0,775.3 904.0,777.5" fill="none" stroke="#55AAFF" stroke-width="1" stroke-linejoin="round" shape-rendering="crispEdges"/>
<rect x="170" y="606" width="2" height="2" fill="#606060"/>
<rect x="181" y="620" width="2" height="2" fill="#606060"/>
<rect x="191" y="627" width="2" height="2" fill="#606060"/>
<rect x="211" y="632" width="2" height="2" fill="#606060"/>
<rect x="221" y="631" width="2" height="2" fill="#606060"/>
<rect x="232" y="643" width="2" height="2" fill="#606060"/>
<rect x="242" y="609" width="2" height="2" fill="#606060"/>
<rect x="252" y="555" width="2" height="2" fill="#606060"/>
<rect x="262" y="525" width="2" height="2" fill="#606060"/>
<rect x="272" y="548" width="2" height="2" fill="#606060"/>
<rect x="302" y="554" width="2" height="2" fill="#606060"/>
<rect x="313" y="517" width="2" height="2" fill="#606060"/>
<rect x="396" y="453" width="2" height="2" fill="#606060"/>
<rect x="426" y="447" width="2" height="2" fill="#606060"/>
<rect x="456" y="511" width="2" height="2" fill="#606060"/>
<rect x="487" y="633" width="2" height="2" fill="#606060"/>
<rect x="497" y="630" width="2" height="2" fill="#606060"/>
<rect x="507" y="562" width="2" height="2" fill="#606060"/>
<rect x="517" y="554" width="2" height="2" fill="#606060"/>
<rect x="528" y="520" width="2" height="2" fill="#606060"/>
<rect x="538" y="496" width="2" height="2" fill="#606060"/>
<rect x="548" y="482" width="2" height="2" fill="#606060"/>
<rect x="557" y="457" width="2" height="2" fill="#606060"/>
<rect x="569" y="454" width="2" height="2" fill="#606060"/>
<rect x="579" y="464" width="2" height="2" fill="#606060"/>
<rect x="589" y="443" width="2" height="2" fill="#606060"/>
<rect x="598" y="430" width="2" height="2" fill="#606060"/>
<rect x="609" y="435" width="2" height="2" fill="#606060"/>
<rect x="620" y="432" width="2" height="2" fill="#606060"/>
<rect x="630" y="440" width="2" height="2" fill="#606060"/>
<rect x="640" y="445" width="2" height="2" fill="#606060"/>
<rect x="650" y="443" width="2" height="2" fill="#606060"/>
<rect x="660" y="437" width="2" height="2" fill="#606060"/>
<rect x="671" y="434" width="2" height="2" fill="#606060"/>
<rect x="681" y="438" width="2" height="2" fill="#606060"/>
<rect x="691" y="424" width="2" height="2" fill="#606060"/>
<rect x="701" y="438" width="2" height="2" fill="#606060"/>
<rect x="711" y="421" width="2" height="2" fill="#606060"/>
<rect x="722" y="448" width="2" height="2" fill="#606060"/>
<rect x="732" y="441" width="2" height="2" fill="#606060"/>
<rect x="742" y="450" width="2" height="2" fill="#606060"/>
<rect x="752" y="451" width="2" height="2" fill="#606060"/>
<rect x="762" y="469" width="2" height="2" fill="#606060"/>
<rect x="773" y="471" width="2" height="2" fill="#606060"/>
<rect x="783" y="464" width="2" height="2" fill="#606060"/>
<rect x="793" y="469" width="2" height="2" fill="#606060"/>
<rect x="803" y="475" width="2" height="2" fill="#606060"/>
<rect x="814" y="483" width="2" height="2" fill="#606060"/>
<rect x="824" y="460" width="2" height="2" fill="#606060"/>
<rect x="834" y="479" width="2" height="2" fill="#606060"/>
<rect x="844" y="477" width="2" height="2" fill="#606060"/>
<rect x="854" y="456" width="2" height="2" fill="#606060"/>
<rect x="865" y="462" width="2" height="2" fill="#606060"/>
<rect x="875" y="453" width="2" height="2" fill="#606060"/>
<rect x="885" y="442" width="2" height="2" fill="#606060"/>
<rect x="895" y="429" width="2" height="2" fill="#606060"/>
<rect x="905" y="425" width="2" height="2" fill="#606060"/>
<rect x="916" y="435" width="2" height="2" fill="#606060"/>
<rect x="926" y="424" width="2" height="2" fill="#606060"/>
<rect x="936" y="441" width="2" height="2" fill="#606060"/>
<rect x="944" y="413" width="2" height="2" fill="#606060"/>
<rect x="956" y="440" width="2" height="2" fill="#606060"/>
<rect x="967" y="411" width="2" height="2" fill="#606060"/>
<rect x="977" y="435" width="2" height="2" fill="#606060"/>
<rect x="987" y="437" width="2" height="2" fill="#606060"/>
<rect x="997" y="413" width="2" height="2" fill="#606060"/>
<rect x="1008" y="445" width="2" height="2" fill="#606060"/>
<rect x="1018" y="451" width="2" height="2" fill="#606060"/>
<rect x="1027" y="466" width="2" height="2" fill="#606060"/>
<rect x="1038" y="490" width="2" height="2" fill="#606060"/>
<rect x="1048" y="483" width="2" height="2" fill="#606060"/>
<rect x="1059" y="499" width="2" height="2" fill="#606060"/>
<rect x="1069" y="499" width="2" height="2" fill="#606060"/>
<rect x="1079" y="466" width="2" height="2" fill="#606060"/>
<rect x="1089" y="506" width="2" height="2" fill="#606060"/>
<rect x="1099" y="472" width="2" height="2" fill="#606060"/>
<rect x="1109" y="473" width="2" height="2" fill="#606060"/>
<rect x="1120" y="483" width="2" height="2" fill="#606060"/>
<polyline points="151.2,574.5 177.5,572.0 201.2,572.0 211.2,567.5 222.4,566.2 233.7,566.2 242.4,563.0 254.9,560.5 264.9,560.7 277.4,563.7 293.6,566.2 307.3,566.2 313.6,565.0 324.8,568.0 347.3,568.7 354.8,570.5 369.8,571.2 384.8,573.0 396.0,573.0 406.0,569.5 416.0,572.0 428.8,564.9 437.5,566.3 448.0,564.3 479.0,563.4 498.8,560.5 518.4,546.7 538.1,542.3 551.3,540.8 562.2,535.8 573.1,534.2 584.0,535.3 600.6,540.2 608.7,541.2 625.0,539.7 652.4,539.3 662.4,536.2 682.4,535.2 692.4,533.1 705.0,527.3 722.0,513.5 741.4,496.0 753.4,488.7 763.3,478.9 793.9,463.1 814.7,459.2 826.7,454.4 843.1,450.4 876.0,448.3 908.8,444.5 928.5,440.8 948.1,438.0 961.3,432.9 977.8,430.1 997.2,425.3 1011.2,424.2 1047.9,419.9 1091.0,412.4 1121.2,409.1" fill="none" stroke="#408080" stroke-width="1" stroke-linejoin="round" shape-rendering="crispEdges"/>
<polyline points="151.1,404.5 156.6,403.0 202.5,403.0 212.3,410.2 222.2,412.4 233.1,415.0 243.0,417.6 253.9,413.3 263.8,418.3 273.6,418.7 282.4,420.5 301.0,421.1 320.6,422.7 376.4,422.7 387.4,428.6 396.1,430.3 406.0,433.2 420.0,435.8 441.9,438.0 462.7,438.6 467.0,439.5 479.0,445.6 507.5,453.3 528.3,458.1 539.2,467.5 551.3,471.9 560.0,476.3 569.9,478.4 580.8,487.2 600.6,495.2 615.0,500.2 641.2,504.4 672.4,507.5 682.4,514.0 692.4,516.5 707.4,520.6 722.8,522.2 732.7,523.3 744.7,530.5 762.2,535.3 784.1,539.3 814.7,543.0 824.5,549.5 845.3,555.5 854.1,557.2 865.0,558.3 876.0,553.9 886.9,559.4 902.2,559.8 926.3,562.7 948.1,563.3 963.5,564.4 994.8,565.1 1075.8,565.7 1099.8,566.2 1112.3,573.0 1121.0,574.8" fill="none" stroke="#00FF00" stroke-width="1" stroke-linejoin="round" shape-rendering="crispEdges"/>
<polyline points="151.2,774.3 160.0,776.8 171.2,771.5 181.2,772.3 192.5,766.8 202.4,772.3 212.4,751.0 222.4,743.6 233.7,753.6 243.7,737.8 253.6,732.3 262.4,736.8 273.6,748.6 283.6,753.6 294.9,759.8 304.3,763.0 314.3,739.3 324.8,759.8 334.8,759.3 346.1,766.0 354.8,767.3 384.8,773.5 414.7,776.8 421.2,775.3 430.0,775.3 442.5,776.8 497.4,776.8 507.4,756.0 519.9,714.8 529.9,683.6 539.9,663.6 549.9,643.7 559.9,632.9 569.9,626.9 581.1,615.4 591.1,620.4 600.5,582.4 610.5,582.4 616.2,576.8 626.2,568.1 631.2,563.7 641.5,572.2 682.4,523.5 688.7,524.0 693.0,523.5 702.0,496.0 712.5,473.6 723.3,489.8 733.3,451.8 742.9,502.1 753.4,505.1 764.4,515.6 774.2,528.8 784.5,506.4 794.6,501.4 804.2,510.2 815.4,464.9 825.6,491.1 835.5,469.7 845.3,447.4 855.2,465.8 866.1,480.2 876.4,474.5 885.8,488.3 896.7,510.2 906.6,502.9 917.5,529.9 927.4,534.2 938.3,540.1 947.6,537.5 958.3,542.2 968.0,542.2 978.6,553.9 988.3,563.6 998.7,555.2 1009.2,581.9 1018.9,581.9 1029.6,628.9 1039.2,627.0 1049.7,641.9 1060.6,628.3 1070.5,613.2 1081.0,610.6 1099.8,602.2 1111.0,627.0 1120.9,610.0" fill="none" stroke="#000000" stroke-width="1" stroke-linejoin="round" shape-rendering="crispEdges"/>
<polyline points="151.1,537.5 161.2,539.2 171.4,541.0 181.6,542.7 192.7,544.5 202.5,543.6 212.3,531.0 223.3,527.0 233.1,527.0 244.1,511.3 253.9,505.1 262.7,508.0 273.6,518.9 283.4,526.6 295.5,534.2 305.3,534.9 314.0,529.9 323.9,534.2 333.8,540.8 344.7,540.8 354.6,547.4 364.4,545.8 375.3,547.4 386.3,549.5 395.0,551.1 406.0,546.3 415.8,548.9 427.7,537.5 436.4,539.3 447.3,548.0 457.0,549.0 477.6,549.0 487.9,547.4 497.7,543.0 507.5,528.8 518.4,498.1 529.4,467.5 539.9,454.4 550.2,454.4 558.9,438.0 571.0,424.8 590.6,417.2 608.1,413.9 621.3,408.4 632.2,407.3 642.0,403.6 651.9,399.7 662.8,394.9 670.5,393.6 681.4,394.9 691.3,399.3 702.0,409.0 713.0,420.5 722.8,427.0 729.4,428.6 742.5,429.2 752.3,430.8 764.4,426.6 785.2,426.6 793.9,423.8 810.3,426.4 826.7,426.4 835.5,423.1 851.9,419.8 860.6,420.5 878.1,418.9 902.2,418.3 927.4,415.0 947.6,415.0 958.3,408.5 972.4,408.0 999.3,402.7 1043.6,402.7 1059.7,396.8 1091.0,390.8 1121.2,390.8" fill="none" stroke="#FF0000" stroke-width="2" stroke-linejoin="round" shape-rendering="crispEdges"/>
<polyline points="151.0,136.0 161.2,128.0 171.4,121.0 181.6,114.0 191.8,114.0 202.0,114.0 212.2,114.0 222.5,128.0 232.7,136.0 242.9,143.0 253.1,158.0 263.3,158.0 273.5,158.0 283.7,150.0 293.9,143.0 304.1,128.0 314.3,128.0 324.5,136.0 334.8,121.0 345.0,114.0 355.2,114.0 365.4,114.0 375.6,114.0 385.8,114.0 396.0,106.0 406.2,92.0 416.4,106.0 426.6,84.0 436.8,106.0 447.0,84.0 457.2,84.0 467.5,84.0 477.7,84.0 487.9,84.0 498.1,77.0 508.3,77.0 518.5,114.0 528.7,194.0 538.9,223.0 549.1,223.0 559.3,238.0 569.5,252.0 579.8,274.0 590.0,296.0 600.2,311.0 610.4,311.0 620.6,304.0 630.8,304.0 641.0,311.0 651.2,318.0 661.4,311.0 671.6,318.0 681.8,318.0 692.0,304.0 702.2,267.0 712.5,216.0 722.7,179.0 732.9,150.0 743.1,136.0 753.3,128.0 763.5,114.0 773.7,106.0 783.9,106.0 794.1,106.0 804.3,106.0 814.5,106.0 824.8,92.0 835.0,92.0 845.2,106.0 855.4,106.0 865.6,106.0 875.8,106.0 886.0,106.0 896.2,106.0 906.4,106.0 916.6,92.0 926.8,92.0 937.0,92.0 947.2,92.0 957.5,84.0 967.7,84.0 977.9,84.0 988.1,84.0 998.3,84.0 1008.5,84.0 1018.7,84.0 1028.9,84.0 1039.1,84.0 1049.3,84.0 1059.5,84.0 1069.8,84.0 1080.0,84.0 1090.2,84.0 1100.4,84.0 1110.6,84.0 1120.8,84.0" fill="none" stroke="#0000FF" stroke-width="2" stroke-linejoin="round" shape-rendering="crispEdges"/>
<line x1="151.5" y1="778" x2="151.5" y2="783" stroke="#808080" stroke-width="1"/>
<line x1="192.5" y1="778" x2="192.5" y2="783" stroke="#808080" stroke-width="1"/>
<line x1="233.5" y1="778" x2="233.5" y2="783" stroke="#808080" stroke-width="1"/>
<line x1="273.5" y1="778" x2="273.5" y2="783" stroke="#808080" stroke-width="1"/>
<line x1="314.5" y1="778" x2="314.5" y2="783" stroke="#808080" stroke-width="1"/>
<line x1="355.5" y1="778" x2="355.5" y2="783" stroke="#808080" stroke-width="1"/>
<line x1="396.5" y1="778" x2="396.5" y2="783" stroke="#808080" stroke-width="1"/>
<line x1="437.5" y1="778" x2="437.5" y2="783" stroke="#808080" stroke-width="1"/>
<line x1="478.5" y1="778" x2="478.5" y2="783" stroke="#808080" stroke-width="1"/>
<line x1="519.5" y1="778" x2="519.5" y2="783" stroke="#808080" stroke-width="1"/>
<line x1="559.5" y1="778" x2="559.5" y2="783" stroke="#808080" stroke-width="1"/>
<line x1="600.5" y1="778" x2="600.5" y2="783" stroke="#808080" stroke-width="1"/>
<line x1="641.5" y1="778" x2="641.5" y2="783" stroke="#808080" stroke-width="1"/>
<line x1="682.5" y1="778" x2="682.5" y2="783" stroke="#808080" stroke-width="1"/>
<line x1="723.5" y1="778" x2="723.5" y2="783" stroke="#808080" stroke-width="1"/>
<line x1="763.5" y1="778" x2="763.5" y2="783" stroke="#808080" stroke-width="1"/>
<line x1="804.5" y1="778" x2="804.5" y2="783" stroke="#808080" stroke-width="1"/>
<line x1="845.5" y1="778" x2="845.5" y2="783" stroke="#808080" stroke-width="1"/>
<line x1="886.5" y1="778" x2="886.5" y2="783" stroke="#808080" stroke-width="1"/>
<line x1="927.5" y1="778" x2="927.5" y2="783" stroke="#808080" stroke-width="1"/>
<line x1="968.5" y1="778" x2="968.5" y2="783" stroke="#808080" stroke-width="1"/>
<line x1="1009.5" y1="778" x2="1009.5" y2="783" stroke="#808080" stroke-width="1"/>
<line x1="1049.5" y1="778" x2="1049.5" y2="783" stroke="#808080" stroke-width="1"/>
<line x1="1090.5" y1="778" x2="1090.5" y2="783" stroke="#808080" stroke-width="1"/>
<line x1="1131.5" y1="778" x2="1131.5" y2="783" stroke="#808080" stroke-width="1"/>
<text x="152" y="797" fill="#000" font-size="11" text-anchor="middle" font-weight="normal" >00:00</text>
<text x="193" y="797" fill="#000" font-size="11" text-anchor="middle" font-weight="normal" >01:00</text>
<text x="234" y="797" fill="#000" font-size="11" text-anchor="middle" font-weight="normal" >02:00</text>
<text x="274" y="797" fill="#000" font-size="11" text-anchor="middle" font-weight="normal" >03:00</text>
<text x="315" y="797" fill="#000" font-size="11" text-anchor="middle" font-weight="normal" >04:00</text>
<text x="356" y="797" fill="#000" font-size="11" text-anchor="middle" font-weight="normal" >05:00</text>
<text x="397" y="797" fill="#000" font-size="11" text-anchor="middle" font-weight="normal" >06:00</text>
<text x="438" y="797" fill="#000" font-size="11" text-anchor="middle" font-weight="normal" >07:00</text>
<text x="479" y="797" fill="#000" font-size="11" text-anchor="middle" font-weight="normal" >08:00</text>
<text x="520" y="797" fill="#000" font-size="11" text-anchor="middle" font-weight="normal" >09:00</text>
<text x="560" y="797" fill="#000" font-size="11" text-anchor="middle" font-weight="normal" >10:00</text>
<text x="601" y="797" fill="#000" font-size="11" text-anchor="middle" font-weight="normal" >11:00</text>
<text x="642" y="797" fill="#000" font-size="11" text-anchor="middle" font-weight="normal" >12:00</text>
<text x="683" y="797" fill="#000" font-size="11" text-anchor="middle" font-weight="normal" >13:00</text>
<text x="724" y="797" fill="#000" font-size="11" text-anchor="middle" font-weight="normal" >14:00</text>
<text x="764" y="797" fill="#000" font-size="11" text-anchor="middle" font-weight="normal" >15:00</text>
<text x="805" y="797" fill="#000" font-size="11" text-anchor="middle" font-weight="normal" >16:00</text>
<text x="846" y="797" fill="#000" font-size="11" text-anchor="middle" font-weight="normal" >17:00</text>
<text x="887" y="797" fill="#000" font-size="11" text-anchor="middle" font-weight="normal" >18:00</text>
<text x="928" y="797" fill="#000" font-size="11" text-anchor="middle" font-weight="normal" >19:00</text>
<text x="969" y="797" fill="#000" font-size="11" text-anchor="middle" font-weight="normal" >20:00</text>
<text x="1010" y="797" fill="#000" font-size="11" text-anchor="middle" font-weight="normal" >21:00</text>
<text x="1050" y="797" fill="#000" font-size="11" text-anchor="middle" font-weight="normal" >22:00</text>
<text x="1091" y="797" fill="#000" font-size="11" text-anchor="middle" font-weight="normal" >23:00</text>
<text x="1132" y="797" fill="#000" font-size="11" text-anchor="middle" font-weight="normal" >24:00</text>
<rect x="1" y="809" width="1278" height="72" fill="#E0F8D0"/>
<line x1="1278.5" y1="809" x2="1278.5" y2="881" stroke="#808080" stroke-width="1"/>
<line x1="88.5" y1="809" x2="88.5" y2="881" stroke="#808080" stroke-width="1"/>
<line x1="205.5" y1="809" x2="205.5" y2="881" stroke="#808080" stroke-width="1"/>
<line x1="323.5" y1="809" x2="323.5" y2="881" stroke="#808080" stroke-width="1"/>
<line x1="441.5" y1="809" x2="441.5" y2="881" stroke="#808080" stroke-width="1"/>
<line x1="559.5" y1="809" x2="559.5" y2="881" stroke="#808080" stroke-width="1"/>
<line x1="677.5" y1="809" x2="677.5" y2="881" stroke="#808080" stroke-width="1"/>
<line x1="795.5" y1="809" x2="795.5" y2="881" stroke="#808080" stroke-width="1"/>
<line x1="913.5" y1="809" x2="913.5" y2="881" stroke="#808080" stroke-width="1"/>
<text x="9" y="827" fill="#000" font-size="11" text-anchor="start" font-weight="bold" >Sensor</text>
<text x="9" y="843" fill="#000" font-size="11" text-anchor="start" font-weight="bold" >MinWert</text>
<text x="9" y="859" fill="#000" font-size="11" text-anchor="start" font-weight="bold" >MaxWert</text>
<text x="9" y="875" fill="#000" font-size="11" text-anchor="start" font-weight="bold" >Durchschnitt</text>
<text x="94" y="827" fill="#000" font-size="11" text-anchor="start" font-weight="bold" >Außen</text>
<text x="198.5" y="827" fill="#000" font-size="11" text-anchor="end" font-weight="bold" >°C</text>
<text x="100" y="843" fill="#000" font-size="11" text-anchor="start" font-weight="normal" >06:00</text>
<text x="198" y="843" fill="#000" font-size="11" text-anchor="end" font-weight="normal" >5.2</text>
<text x="100" y="859" fill="#000" font-size="11" text-anchor="start" font-weight="normal" >23:00</text>
<text x="198" y="859" fill="#000" font-size="11" text-anchor="end" font-weight="normal" >13.1</text>
<text x="100" y="875" fill="#000" font-size="11" text-anchor="start" font-weight="normal" >(+ 3.03 )</text>
<text x="198" y="875" fill="#000" font-size="11" text-anchor="end" font-weight="normal" >9.63</text>
<text x="212" y="827" fill="#000" font-size="11" text-anchor="start" font-weight="bold" >Feuchte</text>
<text x="316.5" y="827" fill="#000" font-size="11" text-anchor="end" font-weight="bold" >%</text>
<text x="218" y="843" fill="#000" font-size="11" text-anchor="start" font-weight="normal" >12:15</text>
<text x="316" y="843" fill="#000" font-size="11" text-anchor="end" font-weight="normal" >63</text>
<text x="218" y="859" fill="#000" font-size="11" text-anchor="start" font-weight="normal" >08:30</text>
<text x="316" y="859" fill="#000" font-size="11" text-anchor="end" font-weight="normal" >96</text>
<text x="218" y="875" fill="#000" font-size="11" text-anchor="start" font-weight="normal" ></text>
<text x="316" y="875" fill="#000" font-size="11" text-anchor="end" font-weight="normal" >87</text>
<text x="330" y="827" fill="#000" font-size="11" text-anchor="start" font-weight="bold" >Luftdruck</text>
<text x="434.5" y="827" fill="#000" font-size="11" text-anchor="end" font-weight="bold" >hPa</text>
<text x="336" y="843" fill="#000" font-size="11" text-anchor="start" font-weight="normal" >23:30</text>
<text x="434" y="843" fill="#000" font-size="11" text-anchor="end" font-weight="normal" >1000.6</text>
<text x="336" y="859" fill="#000" font-size="11" text-anchor="start" font-weight="normal" >01:00</text>
<text x="434" y="859" fill="#000" font-size="11" text-anchor="end" font-weight="normal" >1010.6</text>
<text x="330" y="875" fill="#000" font-size="11" text-anchor="start" font-weight="normal" >^1.5hPa/h</text>
<text x="434" y="875" fill="#000" font-size="11" text-anchor="end" font-weight="normal" >1005.3</text>
<text x="448" y="827" fill="#000" font-size="11" text-anchor="start" font-weight="bold" >Wind</text>
<text x="552.5" y="827" fill="#000" font-size="11" text-anchor="end" font-weight="bold" >km/h</text>
<text x="448" y="843" fill="#000" font-size="11" text-anchor="start" font-weight="normal" >Ø 10 min.</text>
<text x="552" y="843" fill="#000" font-size="11" text-anchor="end" font-weight="normal" >12.3</text>
<text x="454" y="859" fill="#000" font-size="11" text-anchor="start" font-weight="normal" >17:00</text>
<text x="552" y="859" fill="#000" font-size="11" text-anchor="end" font-weight="normal" >SO 27.4</text>
<text x="454" y="875" fill="#000" font-size="11" text-anchor="start" font-weight="normal" >10,3 km</text>
<text x="552" y="875" fill="#000" font-size="11" text-anchor="end" font-weight="normal" >10.3</text>
<text x="566" y="827" fill="#000" font-size="11" text-anchor="start" font-weight="bold" >Richtung</text>
<text x="670.5" y="827" fill="#000" font-size="11" text-anchor="end" font-weight="bold" ></text>
<text x="572" y="843" fill="#000" font-size="11" text-anchor="start" font-weight="normal" >07:45</text>
<text x="670" y="843" fill="#000" font-size="11" text-anchor="end" font-weight="normal" >N-NO</text>
<text x="572" y="859" fill="#000" font-size="11" text-anchor="start" font-weight="normal" >20:45</text>
<text x="670" y="859" fill="#000" font-size="11" text-anchor="end" font-weight="normal" >S-SW</text>
<text x="572" y="875" fill="#000" font-size="11" text-anchor="start" font-weight="normal" ></text>
<text x="670" y="875" fill="#000" font-size="11" text-anchor="end" font-weight="normal" >S-SO</text>
<text x="684" y="827" fill="#000" font-size="11" text-anchor="start" font-weight="normal" >Regen/1h</text>
<text x="789" y="827" fill="#000" font-size="11" text-anchor="end" font-weight="normal" >0.00l/m²</text>
<text x="684" y="843" fill="#000" font-size="11" text-anchor="start" font-weight="normal" >Regen/Tag</text>
<text x="789" y="843" fill="#000" font-size="11" text-anchor="end" font-weight="normal" >3.43l/m²</text>
<text x="684" y="859" fill="#000" font-size="11" text-anchor="start" font-weight="normal" >Neumond</text>
<text x="789" y="859" fill="#000" font-size="11" text-anchor="end" font-weight="normal" >12.11.04</text>
<text x="684" y="875" fill="#000" font-size="11" text-anchor="start" font-weight="normal" >Vollmond</text>
<text x="789" y="875" fill="#000" font-size="11" text-anchor="end" font-weight="normal" >28.10.04</text>
<text x="802" y="827" fill="#000" font-size="11" text-anchor="start" font-weight="normal" >Wolkenunterg</text>
<text x="907" y="827" fill="#000" font-size="11" text-anchor="end" font-weight="normal" >120m</text>
<text x="802" y="843" fill="#000" font-size="11" text-anchor="start" font-weight="normal" >Sichtweite</text>
<text x="907" y="843" fill="#000" font-size="11" text-anchor="end" font-weight="normal" >6-10km</text>
<text x="802" y="859" fill="#000" font-size="11" text-anchor="start" font-weight="normal" >Max. Sonnen</text>
<text x="907" y="859" fill="#000" font-size="11" text-anchor="end" font-weight="normal" >27,729°</text>
<text x="802" y="875" fill="#000" font-size="11" text-anchor="start" font-weight="normal" >Sonnen Pos</text>
<text x="907" y="875" fill="#000" font-size="11" text-anchor="end" font-weight="normal" >-45,973°</text>
<text x="920" y="827" fill="#000" font-size="11" text-anchor="start" font-weight="bold" >PMV+1:10</text>
<text x="920" y="843" fill="#000" font-size="11" text-anchor="start" font-weight="normal" >WC 13.1 °C</text>
<text x="920" y="859" fill="#000" font-size="11" text-anchor="start" font-weight="normal" >TP 12.3 °C</text>
<text x="920" y="875" fill="#000" font-size="11" text-anchor="start" font-weight="normal" >-1.1hPa/3h</text>
<text x="36" y="808" fill="#000" font-size="11" text-anchor="end" font-weight="normal" >10:21</text>
<path d="M40,807 L40,804 Q40,801 44.5,801 Q49,801 49,804 L49,807 Z" fill="#FFFF00"/>
<text x="465" y="807" fill="#000" font-size="11" text-anchor="end" font-weight="normal" >07:52</text>
<rect x="471" y="774" width="2" height="13" fill="#FFFF00" />
<circle cx="472" cy="803.5" r="3.5" fill="#FFFF00"/>
<circle cx="472" cy="803.5" r="5.5" fill="none" stroke="#FFFF00" stroke-width="1" stroke-dasharray="1.5 1.5" opacity="0.6"/>
<text x="889" y="807" fill="#000" font-size="11" text-anchor="end" font-weight="normal" >18:14</text>
<rect x="895" y="774" width="2" height="13" fill="#FFFF00" />
<rect x="893.5" y="801.5" width="5" height="5" fill="none" stroke="#FFFF00" stroke-width="1"/>
</svg></body></html>
